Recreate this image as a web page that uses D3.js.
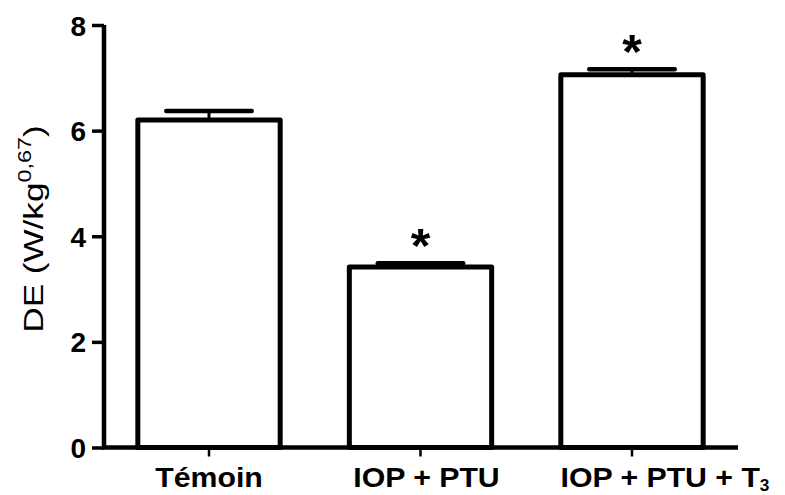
<!DOCTYPE html>
<html>
<head>
<meta charset="utf-8">
<script src="https://cdn.jsdelivr.net/npm/d3@7"></script>
<style>
  html, body { margin: 0; padding: 0; background: #fff; }
  svg { display: block; }
  text { font-family: "Liberation Sans", Arial, sans-serif; fill: #000; }
</style>
</head>
<body>
<svg id="chart" width="785" height="495"></svg>
<script>
// ---- data ----
const categories = ["Témoin", "IOP + PTU", "IOP + PTU + T3"];
const values = [6.2, 3.42, 7.06];
const errors = [0.17, 0.07, 0.1];
const significant = [false, true, true];
const yTicks = [0, 2, 4, 6, 8];

// ---- layout ----
const svg = d3.select("#chart");

const x = d3.scaleBand()
  .domain(categories)
  .range([104, 737])
  .paddingInner(0.327)
  .paddingOuter(0.16);

const y = d3.scaleLinear()
  .domain([0, 8])
  .range([447.5, 25]);

// bars
svg.append("g").selectAll("rect")
  .data(categories)
  .join("rect")
  .attr("x", d => x(d))
  .attr("y", (d, i) => y(values[i]))
  .attr("width", x.bandwidth())
  .attr("height", (d, i) => y(0) - y(values[i]))
  .attr("fill", "#fff")
  .attr("stroke", "#000")
  .attr("stroke-width", 5)
  .attr("stroke-linejoin", "round");

// error bars
const eg = svg.append("g");
categories.forEach((c, i) => {
  const cx = x(c) + x.bandwidth() / 2;
  const capHalf = x.bandwidth() * 0.3;
  eg.append("line")
    .attr("x1", cx).attr("x2", cx)
    .attr("y1", y(values[i])).attr("y2", y(values[i] + errors[i]))
    .attr("stroke", "#000").attr("stroke-width", 3);
  eg.append("line")
    .attr("x1", cx - capHalf).attr("x2", cx + capHalf)
    .attr("y1", y(values[i] + errors[i])).attr("y2", y(values[i] + errors[i]))
    .attr("stroke", "#000").attr("stroke-width", 4.5)
    .attr("stroke-linecap", "round");
  if (significant[i]) {
    svg.append("text")
      .attr("transform", `translate(${cx},${y(values[i] + errors[i]) - 1}) scale(1.05,1)`)
      .attr("text-anchor", "middle")
      .attr("font-size", 48)
      .attr("font-weight", "bold")
      .text("*");
  }
});

// y axis
const yAxis = d3.axisLeft(y).tickValues(yTicks).tickSize(12).tickPadding(6).tickFormat(d3.format("d"));
const gy = svg.append("g").attr("transform", "translate(104,0)").call(yAxis);
gy.select(".domain").attr("stroke-width", 4.5).attr("d", `M0,${y(8)}V${y(0)}`);
gy.selectAll(".tick line").attr("stroke-width", 3.5);
gy.selectAll(".tick text")
  .attr("font-size", 28).attr("font-weight", "bold")
  .attr("font-family", "'Liberation Sans', Arial, sans-serif")
  .attr("dy", "0.36em");

// x axis
const xAxis = d3.axisBottom(x).tickSize(9).tickFormat("");
const gx = svg.append("g").attr("transform", `translate(0,${y(0)})`).call(xAxis);
gx.select(".domain").attr("stroke-width", 4.5).attr("d", `M102,0H738`);
gx.selectAll(".tick line").attr("stroke-width", 2.5);

// x labels
const labelDx = [0, 6, 33];
const xl = svg.append("g");
categories.forEach((c, i) => {
  const t = xl.append("text")
    .attr("transform", `translate(${x(c) + x.bandwidth() / 2 + labelDx[i]},487) scale(1.08,1)`)
    .attr("text-anchor", "middle")
    .attr("font-size", 28)
    .attr("font-weight", "bold");
  if (c.endsWith("T3")) {
    t.append("tspan").text(c.slice(0, -1));
    t.append("tspan").attr("font-size", 16).attr("dy", 4).text("3");
  } else {
    t.text(c);
  }
});

// y label
const yl = svg.append("text")
  .attr("transform", "translate(43,229) rotate(-90) scale(1.3,1)")
  .attr("text-anchor", "middle")
  .attr("font-size", 27);
yl.append("tspan").text("DE (W/kg");
yl.append("tspan").attr("font-size", 18).attr("dy", -12).text("0,67");
yl.append("tspan").attr("dy", 12).text(")");
</script>
</body>
</html>
